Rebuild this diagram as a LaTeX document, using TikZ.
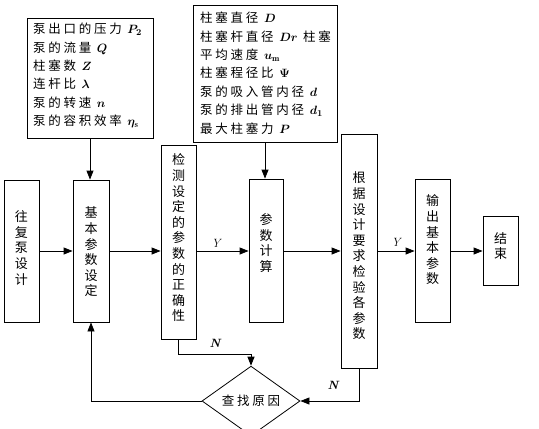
\documentclass[tikz,border=0pt]{standalone}
\usepackage{fontspec}
\usepackage{amsmath}
\newfontfamily\cjk{Noto Sans CJK SC}
\newfontfamily\cjksp[LetterSpace=22]{Noto Sans CJK SC}
\usetikzlibrary{arrows.meta,shapes.geometric}
\tikzset{
  box/.style={draw,line width=0.8pt,inner sep=0pt,rectangle},
  vtext/.style={font=\cjk\fontsize{13}{15.6}\selectfont,align=center,inner sep=0pt},
  ltext/.style={font=\cjksp\fontsize{12.5}{18.4}\selectfont\boldmath,align=left,inner sep=0pt,anchor=north west},
  arr/.style={line width=0.8pt,-{Triangle[length=9pt,width=7pt]}},
  lab/.style={font=\fontsize{12}{12}\selectfont\itshape}
}
\begin{document}
\begin{tikzpicture}[x=1pt,y=-1pt]
\useasboundingbox (0,0) rectangle (539,429);
\coordinate (m) at (0,251);
% parameter boxes
\node[box,minimum width=126pt,minimum height=120pt] (pA) at (90,78) {};
\node[ltext] (tA) at (33,23) {泵出口的压力 $P_2$\\泵的流量 $Q$\\柱塞数 $Z$\\连杆比 $\lambda$\\泵的转速 $n$\\泵的容积效率 $\eta_{\mathrm{s}}$};
\node[box,minimum width=144pt,minimum height=137pt] (pB) at (265,73.5) {};
\node[ltext] (tB) at (200,12) {柱塞直径 $D$\\柱塞杆直径 $Dr$ 柱塞\\平均速度 $u_{\mathrm{m}}$\\柱塞程径比 $\Psi$\\泵的吸入管内径 $d$\\泵的排出管内径 $d_1$\\最大柱塞力 $P$};
% main boxes
\node[box,minimum width=35pt,minimum height=142pt] (b1) at (21.5,251) {};
\node[vtext] (t1) at (21.5,248) {往\\复\\泵\\设\\计};
\node[box,minimum width=36pt,minimum height=142pt] (b2) at (91,251) {};
\node[vtext] (t2) at (91,252) {基\\本\\参\\数\\设\\定};
\node[box,minimum width=35pt,minimum height=194pt] (b3) at (178.5,242) {};
\node[vtext] (t3) at (178.5,238) {检\\测\\设\\定\\的\\参\\数\\的\\正\\确\\性};
\node[box,minimum width=34pt,minimum height=143pt] (b4) at (266,250.5) {};
\node[vtext] (t4) at (266,243) {参\\数\\计\\算};
\node[box,minimum width=36pt,minimum height=234pt] (b5) at (359,251) {};
\node[vtext] (t5) at (359,256) {根\\据\\设\\计\\要\\求\\检\\验\\各\\参\\数};
\node[box,minimum width=35pt,minimum height=143pt] (b6) at (432.5,250.5) {};
\node[vtext] (t6) at (432.5,240) {输\\出\\基\\本\\参\\数};
\node[box,minimum width=35pt,minimum height=69pt] (b7) at (500.5,250.5) {};
\node[vtext] (t7) at (500.5,246) {结\\束};
% diamond
\node[draw,line width=0.8pt,diamond,inner sep=0pt,minimum width=98pt,minimum height=49pt,font=\cjksp\fontsize{12.5}{13}\selectfont] (dm) at (251,401) {查找原因};
% connectors
\draw[arr] (pA.south) -- (pA.south |- b2.north);
\draw[arr] (pB.south) -- (pB.south |- b4.north);
\draw[arr] (b1.east |- m) -- (b2.west |- m);
\draw[arr] (b2.east |- m) -- (b3.west |- m);
\draw[arr] (b3.east |- m) -- (b4.west |- m);
\draw[arr] (b4.east |- m) -- (b5.west |- m);
\draw[arr] (b5.east |- m) -- (b6.west |- m);
\draw[arr] (b6.east |- m) -- (b7.west |- m);
\draw[arr] (b3.south) -- ++(0,15) -| (dm.north);
\draw[arr] (b5.south) |- (dm.east);
\draw[arr] (dm.west) -| (b2.south);
% labels
\node[lab] (y1) at (216,243) {Y};
\node[lab] (y2) at (396,242) {Y};
\node[lab,font=\fontsize{12}{12}\selectfont\bfseries\itshape] (n1) at (215,343) {N};
\node[lab,font=\fontsize{12}{12}\selectfont\bfseries\itshape] (n2) at (333,385) {N};
\end{tikzpicture}
\end{document}
